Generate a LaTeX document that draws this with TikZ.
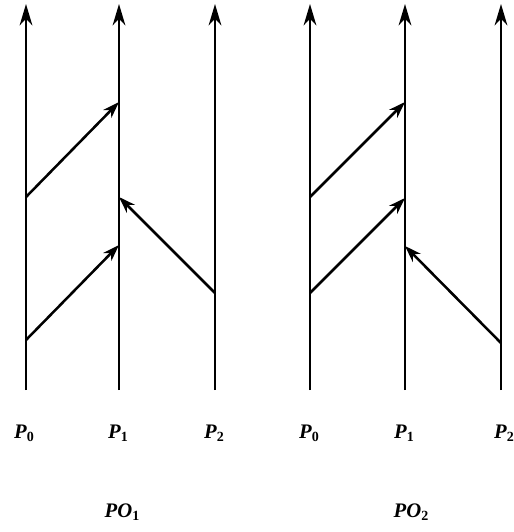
\documentclass[tikz,border=0pt]{standalone}
\usepackage{fontspec}
\setmainfont{Liberation Serif}
\usetikzlibrary{arrows.meta}
\newcommand\plab[2]{\textit{#1}\raisebox{-0.35ex}{\fontsize{10.5}{11}\selectfont #2}}
\begin{document}
\begin{tikzpicture}[x=0.75pt,y=-0.75pt,
  proc/.style={line width=1.9pt,-{Stealth[length=16pt,width=9.5pt,inset=5pt]}},
  msg/.style={line width=1.9pt,-{Stealth[length=12.5pt,width=8.5pt,inset=4pt]}},
  lab/.style={font=\fontsize{15.5}{18}\selectfont\bfseries, anchor=base, inner sep=0pt}]
\useasboundingbox (0,0) rectangle (514,532);
\foreach \n/\x in {a0/26,a1/119,a2/215,b0/310,b1/405,b2/501}{
  \coordinate (\n b) at (\x,390);
  \coordinate (\n t) at (\x,4);
}
% process lines
\draw[proc] (a0b) -- (a0t);
\draw[proc] (a1b) -- (a1t);
\draw[proc] (a2b) -- (a2t);
\draw[proc] (b0b) -- (b0t);
\draw[proc] (b1b) -- (b1t);
\draw[proc] (b2b) -- (b2t);
% events PO1
\coordinate (a0e1) at (26,197);
\coordinate (a1r1) at (119,102);
\coordinate (a0e2) at (26,340);
\coordinate (a1r2) at (119,245);
\coordinate (a2e1) at (215,293);
\coordinate (a1r3) at (119,197);
\draw[msg] (a0e1) -- (a1r1);
\draw[msg] (a0e2) -- (a1r2);
\draw[msg] (a2e1) -- (a1r3);
% events PO2
\coordinate (b0e1) at (310,197);
\coordinate (b1r1) at (405,102);
\coordinate (b0e2) at (310,293);
\coordinate (b1r2) at (405,198);
\coordinate (b2e1) at (501,343);
\coordinate (b1r3) at (405,246);
\draw[msg] (b0e1) -- (b1r1);
\draw[msg] (b0e2) -- (b1r2);
\draw[msg] (b2e1) -- (b1r3);
% labels
\node[lab] (la0) at (24,438) {\plab{P}{0}};
\node[lab] (la1) at (118,438) {\plab{P}{1}};
\node[lab] (la2) at (214,438) {\plab{P}{2}};
\node[lab] (lb0) at (309,438) {\plab{P}{0}};
\node[lab] (lb1) at (404,438) {\plab{P}{1}};
\node[lab] (lb2) at (504,438) {\plab{P}{2}};
\node[lab] (po1) at (122,517) {\plab{PO}{1}};
\node[lab] (po2) at (411,517) {\plab{PO}{2}};
\end{tikzpicture}
\end{document}
